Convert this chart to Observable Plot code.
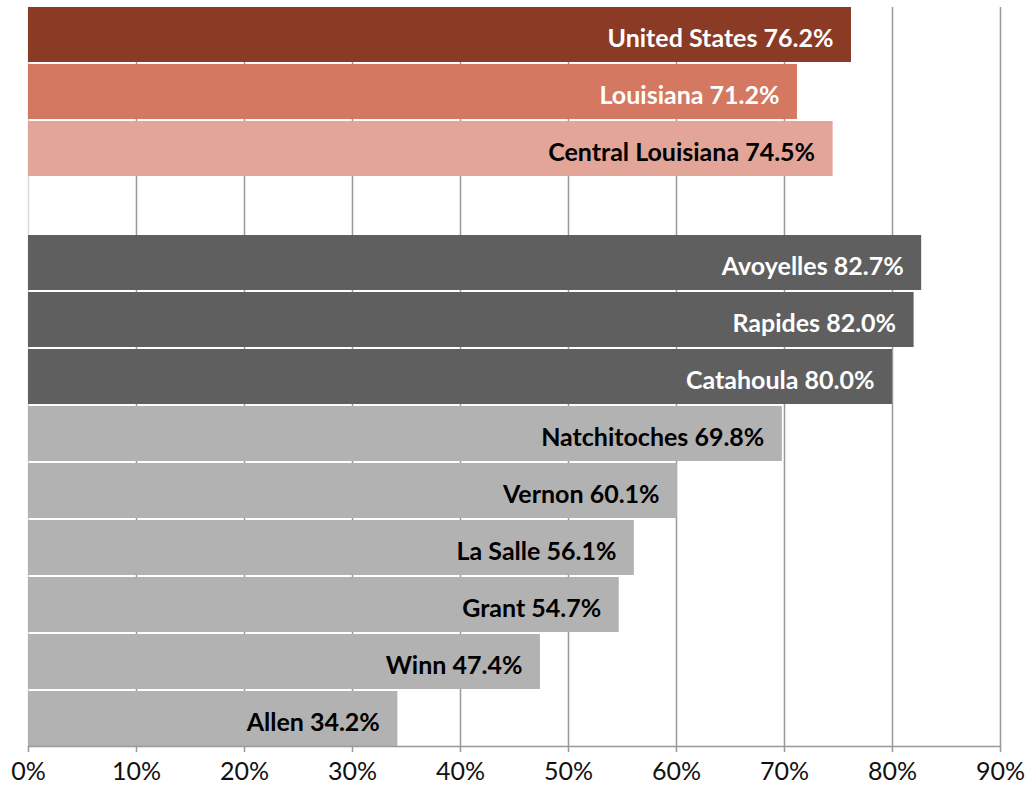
<!DOCTYPE html>
<html>
<head>
<meta charset="utf-8">
<script src="https://cdn.jsdelivr.net/npm/d3@7"></script>
<script src="https://cdn.jsdelivr.net/npm/@observablehq/plot@0.6"></script>
<style>
  html, body { margin: 0; padding: 0; background: #fff; }
  #chart svg { display: block; }
</style>
</head>
<body>
<div id="chart"></div>
<script>
const names = ["United States", "Louisiana", "Central Louisiana",
  "Avoyelles", "Rapides", "Catahoula", "Natchitoches", "Vernon", "La Salle", "Grant", "Winn", "Allen"];
const values = [76.2, 71.2, 74.5, 82.7, 82.0, 80.0, 69.8, 60.1, 56.1, 54.7, 47.4, 34.2];
const groups = ["us", "la", "cenla", "top", "top", "top", "other", "other", "other", "other", "other", "other"];
const rowOrder = ["United States", "Louisiana", "Central Louisiana", " ",
  "Avoyelles", "Rapides", "Catahoula", "Natchitoches", "Vernon", "La Salle", "Grant", "Winn", "Allen"];
const tickValues = [0, 10, 20, 30, 40, 50, 60, 70, 80, 90];

const barColor = {us: "#8B3A26", la: "#D47861", cenla: "#E3A598", top: "#5F5F5F", other: "#B2B2B2"};
const textColor = {us: "#ffffff", la: "#ffffff", cenla: "#000000", top: "#ffffff", other: "#000000"};

const data = names.map((n, i) => ({name: n, value: values[i], group: groups[i]}));

const chart = Plot.plot({
  width: 1026,
  height: 789,
  marginLeft: 28,
  marginRight: 26,
  marginTop: 7,
  marginBottom: 43,
  style: {fontFamily: "Lato, 'Open Sans', sans-serif", background: "#fff"},
  x: {domain: [0, 90]},
  y: {domain: rowOrder, paddingInner: 0.035, paddingOuter: 0, round: false, axis: null},
  color: {type: "identity"},
  marks: [
    Plot.ruleX(tickValues.filter(d => d > 0), {stroke: "#999999", strokeWidth: 1.5}),
    Plot.ruleX([0], {stroke: "#d9d9d9", strokeWidth: 1.5}),
    Plot.barX(data, {x: "value", y: "name", fill: d => barColor[d.group]}),
    Plot.text(data, {
      x: "value", y: "name",
      text: d => `${d.name} ${d.value.toFixed(1)}%`,
      textAnchor: "end", dx: -18, dy: 4,
      fill: d => textColor[d.group],
      fontSize: 25, fontWeight: "bold"
    }),
    Plot.frame({anchor: "bottom", stroke: "#999999", strokeWidth: 1.5}),
    Plot.axisX({
      ticks: tickValues, tickFormat: d => d + "%", tickSize: 6, tickPadding: 10,
      fontSize: 25, stroke: "#999999", strokeWidth: 1.5, fill: "#111", label: null
    })
  ]
});
document.getElementById("chart").appendChild(chart);
</script>
</body>
</html>
